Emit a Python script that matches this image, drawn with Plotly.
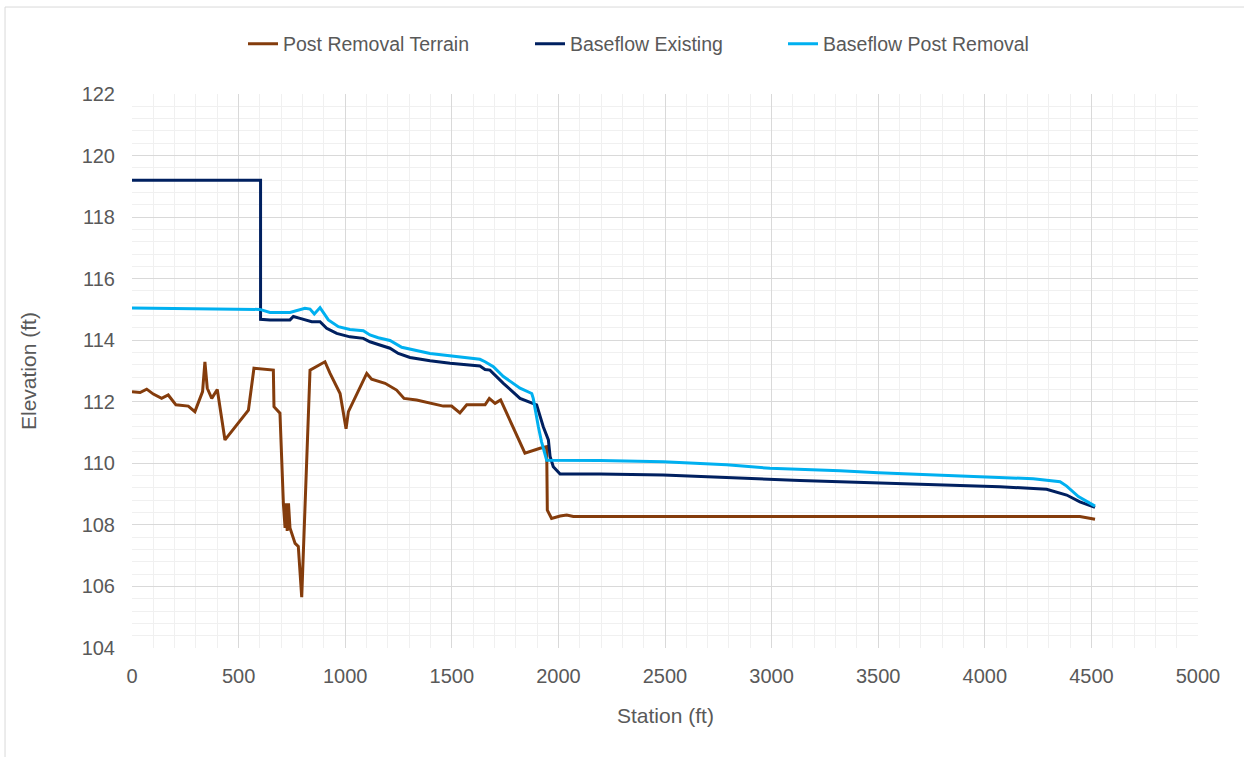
import plotly.graph_objects as go

# Post Removal Terrain
terrain_x = [0, 38, 69, 100, 139, 170, 206, 264, 295, 331, 342, 353, 374, 400, 436, 546, 572, 663, 666, 694,
             710, 718, 722, 728, 734, 741, 765, 780, 796, 835, 905, 929, 976, 1004, 1015, 1101, 1124, 1187, 1241,
             1276, 1335, 1398, 1460, 1499, 1538, 1570, 1656, 1676, 1703, 1729, 1843, 1914, 1945, 1948, 1961, 1968,
             2008, 2039, 2070, 4446, 4517]
terrain_y = [112.33, 112.30, 112.41, 112.25, 112.11, 112.22, 111.90, 111.86, 111.68, 112.33, 113.30, 112.44, 112.11,
             112.40, 110.76, 111.73, 113.09, 113.03, 111.84, 111.63, 108.70, 107.90, 108.70, 107.80, 108.70, 107.90,
             107.40, 107.30, 105.65, 113.03, 113.30, 112.92, 112.27, 111.12, 111.68, 112.92, 112.73, 112.60, 112.38,
             112.11, 112.06, 111.97, 111.86, 111.86, 111.64, 111.90, 111.90, 112.11, 111.95, 112.06, 110.33, 110.49,
             110.54, 108.48, 108.32, 108.21, 108.29, 108.32, 108.27, 108.27, 108.18]

# Baseflow Existing
exist_x = [0, 603, 603, 647, 741, 757, 788, 843, 882, 913, 960, 1022, 1085, 1116, 1155, 1210, 1249, 1304, 1398,
           1492, 1632, 1656, 1679, 1742, 1820, 1882, 1898, 1929, 1945, 1953, 1961, 1976, 2008, 2195, 2492, 2852,
           3133, 3321, 4071, 4290, 4384, 4446, 4517]
exist_y = [119.20, 119.20, 114.68, 114.66, 114.66, 114.77, 114.71, 114.60, 114.60, 114.39, 114.22, 114.11, 114.06,
           113.95, 113.86, 113.74, 113.57, 113.44, 113.33, 113.25, 113.16, 113.05, 113.03, 112.60, 112.11, 111.95,
           111.90, 111.19, 110.87, 110.76, 110.22, 109.89, 109.65, 109.65, 109.62, 109.51, 109.44, 109.40, 109.24,
           109.16, 108.97, 108.75, 108.57]

# Baseflow Post Removal
post_x = [0, 600, 647, 741, 811, 835, 855, 882, 921, 968, 1022, 1085, 1116, 1155, 1210, 1265, 1398, 1492, 1632,
          1656, 1695, 1742, 1820, 1875, 1882, 1906, 1921, 1945, 2008, 2195, 2492, 2789, 2992, 3133, 3321, 3500,
          4071, 4227, 4353, 4384, 4439, 4517]
post_y = [115.05, 115.00, 114.90, 114.90, 115.04, 115.01, 114.85, 115.06, 114.66, 114.44, 114.35, 114.31, 114.17,
          114.08, 113.99, 113.77, 113.57, 113.49, 113.38, 113.30, 113.14, 112.82, 112.44, 112.27, 112.11, 111.19,
          110.70, 110.10, 110.10, 110.09, 110.05, 109.95, 109.84, 109.81, 109.76, 109.69, 109.55, 109.50, 109.40,
          109.26, 108.92, 108.61]

x_ticks = [0, 500, 1000, 1500, 2000, 2500, 3000, 3500, 4000, 4500, 5000]
y_ticks = [104, 106, 108, 110, 112, 114, 116, 118, 120, 122]

FONT = "Liberation Sans, Arial, sans-serif"
GREY = "#595959"

fig = go.Figure()
fig.add_trace(go.Scatter(x=terrain_x, y=terrain_y, mode="lines", name="Post Removal Terrain",
                         line=dict(color="#843C0C", width=3), legendwidth=242))
fig.add_trace(go.Scatter(x=exist_x, y=exist_y, mode="lines", name="Baseflow Existing",
                         line=dict(color="#002060", width=3), legendwidth=208))
fig.add_trace(go.Scatter(x=post_x, y=post_y, mode="lines", name="Baseflow Post Removal",
                         line=dict(color="#00B0F0", width=3), legendwidth=215))

fig.update_layout(
    width=1244, height=757,
    margin=dict(l=132, r=46, t=94, b=109, autoexpand=False),
    paper_bgcolor="white", plot_bgcolor="white",
    font=dict(family=FONT, color=GREY, size=19.5),
    showlegend=True,
    legend=dict(orientation="h", xref="paper", x=(243 - 132) / 1066, xanchor="left",
                yref="paper", y=1.09, yanchor="middle", font=dict(size=19.5, color=GREY),
                traceorder="normal", bgcolor="rgba(0,0,0,0)"),
    xaxis=dict(range=[0, 5000], tickvals=x_ticks, showgrid=True, gridcolor="#d9d9d9", gridwidth=1,
               minor=dict(dtick=100, showgrid=True, gridcolor="#f0f0f0", gridwidth=1),
               zeroline=False, showline=False, ticks="", tickangle=0, automargin=False,
               ticklabelstandoff=14, tickfont=dict(size=20, color=GREY)),
    yaxis=dict(range=[104, 122], tickvals=y_ticks, showgrid=True, gridcolor="#d9d9d9", gridwidth=1,
               minor=dict(dtick=0.4, showgrid=True, gridcolor="#f0f0f0", gridwidth=1),
               zeroline=False, showline=False, ticks="", automargin=False,
               ticklabelstandoff=16, tickfont=dict(size=20, color=GREY)),
    annotations=[
        dict(text="Station (ft)", xref="paper", yref="paper", x=0.5, y=(648 - 715) / 554,
             xanchor="center", yanchor="middle", showarrow=False, font=dict(size=21, color=GREY)),
        dict(text="Elevation (ft)", xref="paper", yref="paper", x=(28 - 132) / 1066, y=0.5,
             xanchor="center", yanchor="middle", textangle=-90, showarrow=False,
             font=dict(size=21, color=GREY)),
    ],
    shapes=[dict(type="rect", xref="paper", yref="paper", x0=-0.1191, x1=1.06, y0=-0.21, y1=1.157,
                 line=dict(color="#d9d9d9", width=1), fillcolor="rgba(0,0,0,0)", layer="below")],
)

fig.write_html("out.html", config={"displayModeBar": False},
               post_script="document.body.style.margin='0px';")
